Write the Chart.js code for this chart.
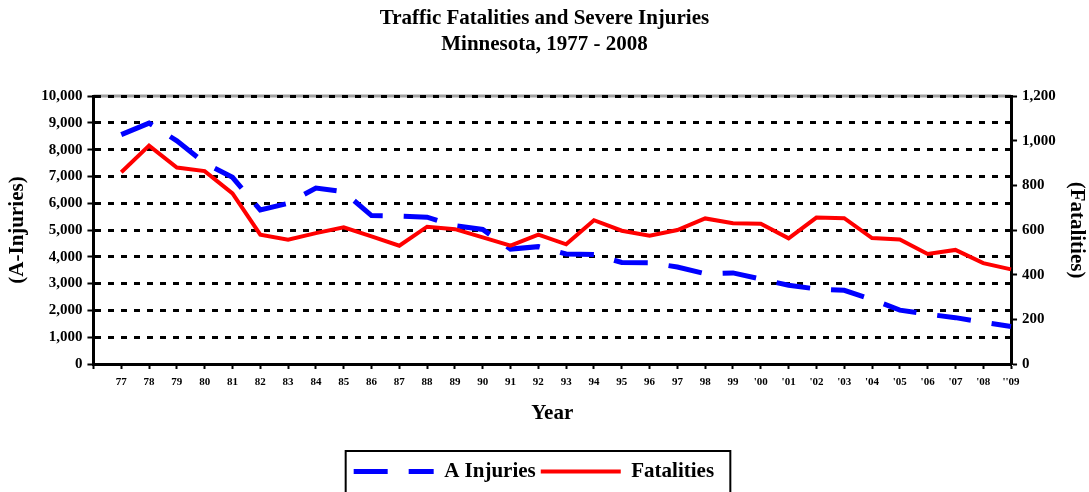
<!DOCTYPE html>
<html>
<head>
<meta charset="utf-8">
<script src="https://cdn.jsdelivr.net/npm/chart.js@4.4.1/dist/chart.umd.min.js"></script>
<style>
  html, body { margin: 0; padding: 0; background: #fff; }
  #wrap { width: 1089px; height: 492px; }
</style>
</head>
<body>
<div id="wrap"><canvas id="chart" width="1089" height="492"></canvas></div>
<script>
// Data (first slot is an empty category)
var years = ['', '77', '78', '79', '80', '81', '82', '83', '84', '85', '86', '87', '88',
  '89', '90', '91', '92', '93', '94', '95', '96', '97', '98', '99', "'00", "'01",
  "'02", "'03", "'04", "'05", "'06", "'07", "'08", "''09"];

var aInjuries = [null, 8560, 8990, 8330, 7500, 6970, 5750, 6000, 6570, 6430, 5540,
  5520, 5480, 5160, 5020, 4290, 4380, 4110, 4090, 3790, 3780, 3620, 3370, 3400,
  3170, 2940, 2800, 2750, 2410, 2010, 1860, 1730, 1560, 1400];

var fatalities = [null, 859, 978, 880, 864, 764, 579, 557, 586, 612, 572, 530, 615,
  604, 567, 530, 579, 536, 644, 597, 575, 600, 652, 630, 628, 563, 656, 653, 564,
  558, 493, 511, 452, 424];

var injuryTicks = { min: 0, max: 10000, step: 1000 };
var fatalityTicks = { min: 0, max: 1200, step: 200 };

var SERIF = '"Liberation Serif", "Times New Roman", serif';
var BLUE = '#0000ff';
var RED = '#ff0000';

function withCommas(v) {
  return Number(v).toLocaleString('en-US');
}

// gray plot border at the top, frame round the legend, legend nudged left
var framePlugin = {
  id: 'frame',
  afterLayout: function(chart) {
    if (chart.legend) {
      chart.legend.left -= 8;
      chart.legend.right -= 8;
    }
  },
  beforeDraw: function(chart) {
    var ctx = chart.ctx, a = chart.chartArea;
    ctx.save();
    ctx.strokeStyle = '#a0a0a0';
    ctx.lineWidth = 3;
    ctx.beginPath();
    ctx.moveTo(a.left, a.top);
    ctx.lineTo(a.right, a.top);
    ctx.stroke();
    ctx.restore();
  },
  afterDraw: function(chart) {
    var ctx = chart.ctx, lg = chart.legend;
    if (!lg || !lg.legendHitBoxes.length) return;
    var first = lg.legendHitBoxes[0];
    var last = lg.legendHitBoxes[lg.legendHitBoxes.length - 1];
    var x1 = first.left - 8, x2 = last.left + last.width + 11;
    ctx.save();
    ctx.strokeStyle = '#000';
    ctx.lineWidth = 2;
    ctx.strokeRect(x1, lg.top - 5, x2 - x1, 60);
    ctx.restore();
  }
};

var ctx = document.getElementById('chart');
var chart = new Chart(ctx, {
  type: 'line',
  data: {
    labels: years,
    datasets: [{
      label: 'A Injuries',
      data: aInjuries,
      yAxisID: 'y',
      borderColor: BLUE,
      backgroundColor: BLUE,
      borderWidth: 5,
      borderDash: [34, 21],
      pointRadius: 0,
      tension: 0,
      order: 1
    }, {
      label: 'Fatalities',
      data: fatalities,
      yAxisID: 'y1',
      borderColor: RED,
      backgroundColor: RED,
      borderWidth: 4,
      pointRadius: 0,
      tension: 0,
      order: 0
    }]
  },
  options: {
    responsive: false,
    animation: false,
    layout: { padding: 0 },
    plugins: {
      title: {
        display: true,
        text: ['Traffic Fatalities and Severe Injuries', 'Minnesota, 1977 - 2008'],
        color: '#000',
        font: { family: SERIF, size: 21, weight: 'bold', lineHeight: 1.24 },
        padding: { top: 6, bottom: 38 }
      },
      legend: {
        position: 'bottom',
        labels: {
          usePointStyle: true,
          pointStyle: 'line',
          pointStyleWidth: 80,
          padding: 5,
          color: '#000',
          font: { family: SERIF, size: 21, weight: 'bold' },
          sort: function(a, b) { return a.datasetIndex - b.datasetIndex; },
          generateLabels: function(chart) {
            var items = Chart.defaults.plugins.legend.labels.generateLabels(chart);
            items.forEach(function(it, i) {
              var ds = chart.data.datasets[it.datasetIndex];
              it.lineDash = ds.borderDash || [];
              it.lineWidth = ds.borderWidth;
              it.strokeStyle = ds.borderColor;
              it.fillStyle = ds.borderColor;
              if (i === 0) it.text = it.text + ' ';
            });
            return items;
          }
        }
      },
      tooltip: { enabled: false }
    },
    scales: {
      x: {
        type: 'category',
        offset: false,
        grid: {
          drawOnChartArea: false,
          drawTicks: true,
          tickLength: 5,
          tickWidth: 2,
          tickColor: '#000'
        },
        border: { display: true, color: '#000', width: 3 },
        ticks: {
          autoSkip: false,
          maxRotation: 0,
          minRotation: 0,
          padding: 7,
          color: '#000',
          font: { family: SERIF, size: 11, weight: 'bold' }
        },
        title: {
          display: true,
          text: 'Year',
          color: '#000',
          font: { family: SERIF, size: 21, weight: 'bold', lineHeight: 1.2 },
          padding: { top: 5, bottom: 29.6 }
        }
      },
      y: {
        position: 'left',
        min: injuryTicks.min,
        max: injuryTicks.max,
        grid: {
          color: function(c) { return c.tick && c.tick.value === 0 ? 'rgba(0,0,0,0)' : '#000'; },
          lineWidth: 3,
          tickColor: '#000',
          tickWidth: 2,
          tickLength: 6
        },
        border: { display: true, color: '#000', width: 3, dash: [6, 7] },
        ticks: {
          stepSize: injuryTicks.step,
          padding: 5,
          color: '#000',
          font: { family: SERIF, size: 15, weight: 'bold' },
          callback: function(v) { return withCommas(v); }
        },
        title: {
          display: true,
          text: '(A-Injuries)',
          color: '#000',
          font: { family: SERIF, size: 21, weight: 'bold', lineHeight: 1.2 },
          padding: { top: 5, bottom: 6 }
        }
      },
      y1: {
        position: 'right',
        min: fatalityTicks.min,
        max: fatalityTicks.max,
        grid: {
          drawOnChartArea: false,
          tickColor: '#000',
          tickWidth: 2,
          tickLength: 6
        },
        border: { display: true, color: '#000', width: 3 },
        ticks: {
          stepSize: fatalityTicks.step,
          padding: 5,
          color: '#000',
          font: { family: SERIF, size: 15, weight: 'bold' },
          callback: function(v) { return withCommas(v); }
        },
        title: {
          display: true,
          text: '(Fatalities)',
          color: '#000',
          font: { family: SERIF, size: 21, weight: 'bold', lineHeight: 1.2 },
          padding: { top: 0, bottom: 3 }
        }
      }
    }
  },
  plugins: [framePlugin]
});
</script>
</body>
</html>
